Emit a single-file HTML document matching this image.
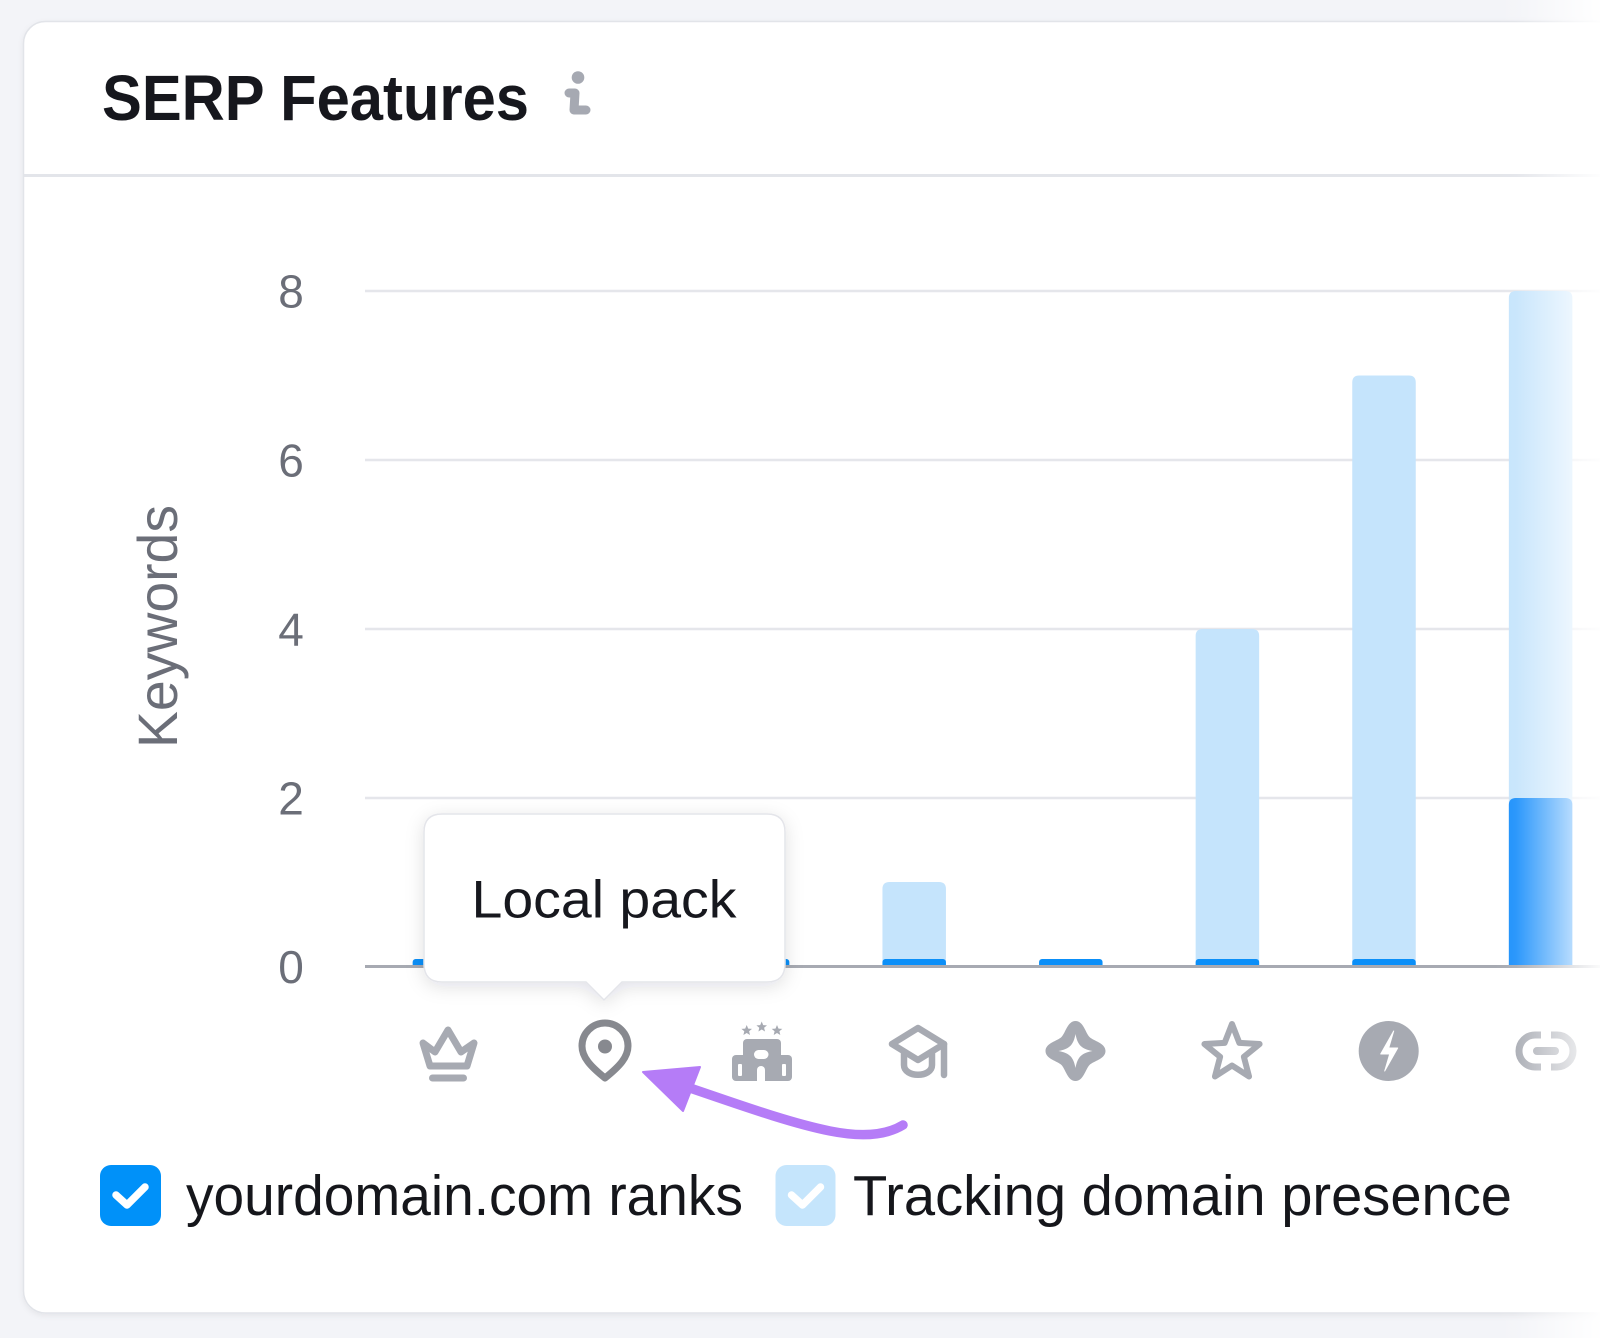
<!DOCTYPE html>
<html>
<head>
<meta charset="utf-8">
<style>
  html, body { margin: 0; padding: 0; background: #f3f4f8; }
  svg { display: block; }
  text { font-family: "Liberation Sans", Arial, sans-serif; }
</style>
</head>
<body>
<svg width="1600" height="1338" viewBox="0 0 1600 1338" xmlns="http://www.w3.org/2000/svg">
  <defs>
    <filter id="cardSh" x="-5%" y="-5%" width="110%" height="110%">
      <feDropShadow dx="0" dy="2" stdDeviation="3" flood-color="#000" flood-opacity="0.06"/>
    </filter>
    <filter id="tipSh" x="-20%" y="-20%" width="140%" height="150%">
      <feDropShadow dx="0" dy="4" stdDeviation="9" flood-color="#1a1d2e" flood-opacity="0.12"/>
    </filter>
    <linearGradient id="fade" gradientUnits="userSpaceOnUse" x1="1495" y1="0" x2="1600" y2="0">
      <stop offset="0" stop-color="#fff" stop-opacity="0"/>
      <stop offset="0.2" stop-color="#fff" stop-opacity="0.08"/>
      <stop offset="0.75" stop-color="#fff" stop-opacity="0.7"/>
      <stop offset="1" stop-color="#fff" stop-opacity="0.95"/>
    </linearGradient>
  </defs>

  <!-- page background -->
  <rect x="0" y="0" width="1600" height="1338" fill="#f3f4f8"/>

  <!-- card -->
  <rect x="23.5" y="21.5" width="1700" height="1291.5" rx="22" fill="#ffffff" stroke="#e2e4e9" stroke-width="1.5" filter="url(#cardSh)"/>

  <!-- title -->
  <text x="102" y="120" font-size="64" font-weight="bold" fill="#16171d" textLength="427" lengthAdjust="spacingAndGlyphs">SERP Features</text>
  <!-- info icon -->
  <circle cx="578" cy="77.5" r="6.3" fill="#a6a9b2"/>
  <polyline points="569,93 575,93 574,110 586,110" fill="none" stroke="#a6a9b2" stroke-width="9" stroke-linecap="round" stroke-linejoin="round"/>

  <!-- header separator -->
  <line x1="24" y1="175.5" x2="1600" y2="175.5" stroke="#e3e5ea" stroke-width="3"/>

  <!-- gridlines -->
  <g stroke="#e5e6eb" stroke-width="2.5">
    <line x1="365" y1="291" x2="1600" y2="291"/>
    <line x1="365" y1="460" x2="1600" y2="460"/>
    <line x1="365" y1="629" x2="1600" y2="629"/>
    <line x1="365" y1="798" x2="1600" y2="798"/>
  </g>

  <!-- y tick labels -->
  <g font-size="46" fill="#6b6e78" text-anchor="middle">
    <text x="291" y="307.5">8</text>
    <text x="291" y="476.5">6</text>
    <text x="291" y="645.5">4</text>
    <text x="291" y="814.5">2</text>
    <text x="291" y="983">0</text>
  </g>

  <!-- y axis title -->
  <text transform="translate(177,748) rotate(-90)" x="0" y="0" font-size="56" fill="#6b6e78" textLength="243" lengthAdjust="spacingAndGlyphs">Keywords</text>

  <!-- light bars (tracking domain presence) -->
  <g fill="#c5e4fc">
    <path d="M882.45,965 V889 Q882.45,882 889.45,882 H938.95 Q945.95,882 945.95,889 V965 Z"/>
    <path d="M1195.65,965 V636 Q1195.65,629 1202.65,629 H1252.15 Q1259.15,629 1259.15,636 V965 Z"/>
    <path d="M1352.25,965 V382.5 Q1352.25,375.5 1359.25,375.5 H1408.75 Q1415.75,375.5 1415.75,382.5 V965 Z"/>
    <path d="M1508.85,965 V298 Q1508.85,291 1515.85,291 H1565.35 Q1572.35,291 1572.35,298 V965 Z"/>
  </g>
  <!-- dark bars (yourdomain ranks) -->
  <g fill="#0b8ff8">
    <rect x="412.65" y="959" width="63.5" height="9" rx="3"/>
    <rect x="569.25" y="959" width="63.5" height="9" rx="3"/>
    <rect x="725.85" y="959" width="63.5" height="9" rx="3"/>
    <rect x="882.45" y="959" width="63.5" height="9" rx="3"/>
    <rect x="1039.05" y="959" width="63.5" height="9" rx="3"/>
    <rect x="1195.65" y="959" width="63.5" height="9" rx="3"/>
    <rect x="1352.25" y="959" width="63.5" height="9" rx="3"/>
    <path d="M1508.85,966 V805 Q1508.85,798 1515.85,798 H1565.35 Q1572.35,798 1572.35,805 V966 Z" fill="#1a8ffb"/>
  </g>

  <!-- baseline -->
  <line x1="365" y1="966.5" x2="1600" y2="966.5" stroke="#a7aab2" stroke-width="3"/>

  <!-- tooltip -->
  <path d="M442,814 H767 Q785,814 785,832 V964 Q785,982 767,982 H622 L604,1000 L586,982 H442 Q424,982 424,964 V832 Q424,814 442,814 Z" fill="#ffffff" stroke="#e4e5ea" stroke-width="1.5" filter="url(#tipSh)"/>
  <text x="471.5" y="917.7" font-size="53" fill="#17181e" textLength="265" lengthAdjust="spacingAndGlyphs">Local pack</text>

  <!-- x-axis icons -->
  <!-- crown -->
  <g fill="none" stroke="#a7aab2" stroke-width="7" stroke-linejoin="round" stroke-linecap="round">
    <path d="M423,1043 L435,1052 L448,1030 L461,1052 L474,1043 L467,1066 L430,1066 Z"/>
  </g>
  <rect x="429" y="1074.5" width="38" height="7" rx="3.5" fill="#a7aab2"/>

  <!-- pin (active) -->
  <path d="M605,1078 C590,1066 582,1057 582,1046 A23,23 0 1,1 628,1046 C628,1057 620,1066 605,1078 Z" fill="none" stroke="#87898f" stroke-width="7" stroke-linejoin="round"/>
  <circle cx="605" cy="1046.5" r="7" fill="#87898f"/>

  <!-- hotel -->
  <g fill="#a7aab2">
    <polygon points="746.7,1025 748.2,1028.6 752,1028.9 749.1,1031.3 750,1035 746.7,1033 743.4,1035 744.3,1031.3 741.4,1028.9 745.2,1028.6"/>
    <polygon points="761.7,1021.5 763.2,1025.1 767,1025.4 764.1,1027.8 765,1031.5 761.7,1029.5 758.4,1031.5 759.3,1027.8 756.4,1025.4 760.2,1025.1"/>
    <polygon points="777,1025 778.5,1028.6 782.3,1028.9 779.4,1031.3 780.3,1035 777,1033 773.7,1035 774.6,1031.3 771.7,1028.9 775.5,1028.6"/>
    <rect x="743" y="1039" width="38" height="42" rx="4"/>
    <rect x="732" y="1055" width="60" height="26" rx="4"/>
  </g>
  <g fill="#ffffff">
    <rect x="754" y="1050" width="14.5" height="9" rx="4.5"/>
    <path d="M757,1081 V1070 A4,4 0 0,1 765,1070 V1081 Z"/>
    <rect x="738" y="1064" width="4" height="12" rx="1"/>
    <rect x="782" y="1064" width="4" height="12" rx="1"/>
  </g>

  <!-- graduation cap -->
  <g transform="translate(918,1051)" fill="none" stroke="#a7aab2" stroke-width="6.5" stroke-linejoin="round" stroke-linecap="round">
    <path d="M0,-23 L-26,-7 L0,9 L26,-7 Z"/>
    <path d="M-14,3 V14 C-14,27 14,27 14,14 V3"/>
    <path d="M26,-7 V24"/>
  </g>

  <!-- sparkle -->
  <g transform="translate(1075.5,1051)">
    <path d="M0,-30 C8,-30 10,-18 14,-14 C18,-10 30,-8 30,0 C30,8 18,10 14,14 C10,18 8,30 0,30 C-8,30 -10,18 -14,14 C-18,10 -30,8 -30,0 C-30,-8 -18,-10 -14,-14 C-10,-18 -8,-30 0,-30 Z" fill="#a7aab2"/>
    <path d="M0,-17 C2,-6 6,-2 17,0 C6,2 2,6 0,17 C-2,6 -6,2 -17,0 C-6,-2 -2,-6 0,-17 Z" fill="#ffffff"/>
  </g>

  <!-- star -->
  <g transform="translate(1232,1053)">
    <polygon points="0,-29 7.35,-10.11 27.58,-8.96 11.89,3.86 17.05,23.46 0,12.5 -17.05,23.46 -11.89,3.86 -27.58,-8.96 -7.35,-10.11" fill="none" stroke="#a7aab2" stroke-width="6" stroke-linejoin="round"/>
  </g>

  <!-- amp -->
  <circle cx="1388.7" cy="1051" r="30" fill="#a7aab2"/>
  <path d="M1393.7,1031 L1380.7,1054 L1389.7,1054 L1384.7,1071 L1397.7,1048 L1388.7,1048 Z" fill="#ffffff" stroke="#ffffff" stroke-width="1" stroke-linejoin="round"/>

  <!-- link -->
  <g transform="translate(1546,1051)" fill="none" stroke="#a7aab2" stroke-width="7">
    <path d="M-5,-16 H-11 A16,16 0 0,0 -11,16 H-5"/>
    <path d="M5,-16 H11 A16,16 0 0,1 11,16 H5"/>
    <path d="M-9,0 H9" stroke-width="8" stroke-linecap="round"/>
  </g>

  <!-- purple annotation arrow -->
  <path d="M903,1125 C885,1136 860,1137 830,1131 C790,1123 740,1105 690,1088" fill="none" stroke="#b57cf7" stroke-width="9.5" stroke-linecap="round"/>
  <polygon points="643,1072 700,1067 683,1111" fill="#b57cf7" stroke="#b57cf7" stroke-width="2" stroke-linejoin="round"/>

  <!-- legend -->
  <rect x="100" y="1165" width="61" height="61" rx="11" fill="#0091f9"/>
  <path d="M116,1195 L127,1205 L145,1187" fill="none" stroke="#ffffff" stroke-width="7.5" stroke-linecap="round" stroke-linejoin="round"/>
  <text x="186" y="1215" font-size="57" fill="#15161b" textLength="557" lengthAdjust="spacingAndGlyphs">yourdomain.com ranks</text>

  <rect x="775.5" y="1165" width="60" height="61" rx="11" fill="#c5e5fc"/>
  <path d="M791.5,1195 L802.5,1205 L820.5,1187" fill="none" stroke="#ffffff" stroke-width="7.5" stroke-linecap="round" stroke-linejoin="round"/>
  <text x="853" y="1215" font-size="57" fill="#15161b" textLength="659" lengthAdjust="spacingAndGlyphs">Tracking domain presence</text>

  <!-- right edge fade -->
  <rect x="1495" y="0" width="105" height="1338" fill="url(#fade)"/>
</svg>
</body>
</html>
